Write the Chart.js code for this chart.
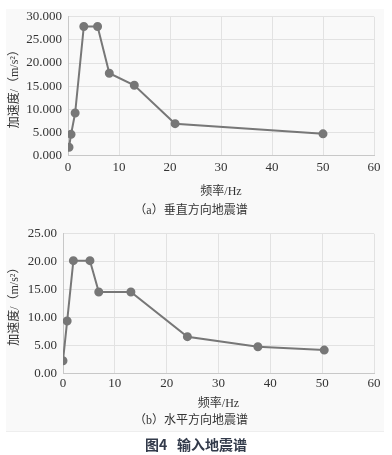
<!DOCTYPE html>
<html>
<head>
<meta charset="utf-8">
<script src="https://cdn.jsdelivr.net/npm/chart.js@4"></script>
<style>
  body { margin: 0; background: #fff; width: 392px; height: 455px; position: relative; overflow: hidden; }
  #panel { position: absolute; left: 6px; top: 9px; width: 378px; height: 422px; background: #f9f9f9; border-bottom: 1px solid #eee; }
  .box { position: absolute; left: 0; width: 392px; }
  #caption { position: absolute; left: 0; width: 392px; top: 434px; text-align: center;
    font-family: "Noto Sans CJK SC", sans-serif; font-weight: bold; font-size: 14px; color: #323a4a; }
</style>
</head>
<body>
<div id="panel"></div>
<div class="box" style="top:3px;height:219px"><canvas id="vertical"></canvas></div>
<div class="box" style="top:220px;height:212px"><canvas id="horizontal"></canvas></div>
<div id="caption">图4&nbsp;&nbsp;&nbsp;输入地震谱</div>
<script>
// (a) vertical spectrum
const freqV = [0.2, 0.6, 1.4, 3.1, 5.8, 8.1, 13.0, 21.0, 50.0];
const accV = [1.8, 4.6, 9.2, 27.9, 27.9, 17.8, 15.2, 6.9, 4.7];
// (b) horizontal spectrum
const freqH = [0.0, 0.8, 2.0, 5.2, 6.9, 13.1, 24.0, 37.6, 50.4];
const accH = [2.3, 9.4, 20.2, 20.2, 14.6, 14.6, 6.6, 4.8, 4.2];

const serif = '"Liberation Serif", "Noto Sans CJK SC", serif';

function makeChart(id, xs, ys, yMax, decimals, caption, yWidth, pad) {
  const pts = xs.map((x, i) => ({x: x, y: ys[i]}));
  return new Chart(document.getElementById(id), {
    type: 'line',
    data: {
      datasets: [{
        data: pts,
        borderColor: '#777',
        backgroundColor: '#777',
        borderWidth: 2,
        pointRadius: 3.5,
        tension: 0
      }]
    },
    options: {
      responsive: true,
      maintainAspectRatio: false,
      animation: false,
      layout: {padding: {top: pad.top, right: 18, left: 8}},
      plugins: {
        legend: {display: false},
        tooltip: {enabled: false},
        title: {
          display: true,
          position: 'bottom',
          text: caption,
          color: '#333',
          font: {family: serif, size: 12, weight: 'normal'},
          padding: {top: pad.sub, bottom: 4}
        }
      },
      scales: {
        x: {
          type: 'linear',
          min: 0, max: 60,
          ticks: {stepSize: 10, color: '#333', font: {family: serif, size: 13}, padding: pad.tick},
          grid: {color: '#e2e2e2', drawTicks: false},
          border: {color: '#c8c8c8'},
          title: {display: true, text: '频率/Hz', color: '#333', font: {family: serif, size: 12}, padding: {top: pad.xt, bottom: 0}}
        },
        y: {
          min: 0, max: yMax,
          afterFit: s => { s.width = yWidth; },
          ticks: {stepSize: 5, color: '#333', font: {family: serif, size: 13}, padding: 6,
            callback: v => v.toFixed(decimals)},
          grid: {color: '#e2e2e2', drawTicks: false},
          border: {color: '#c8c8c8'},
          title: {display: true, text: '加速度/（m/s²）', color: '#333', font: {family: serif, size: 12}, padding: 0}
        }
      }
    }
  });
}

makeChart('vertical', freqV, accV, 30, 3, '（a）垂直方向地震谱', 60, {top: 4, tick: 4, xt: 5, sub: 5});
makeChart('horizontal', freqH, accH, 25, 2, '（b）水平方向地震谱', 55, {top: 3, tick: 2, xt: 3, sub: 3});
</script>
</body>
</html>
